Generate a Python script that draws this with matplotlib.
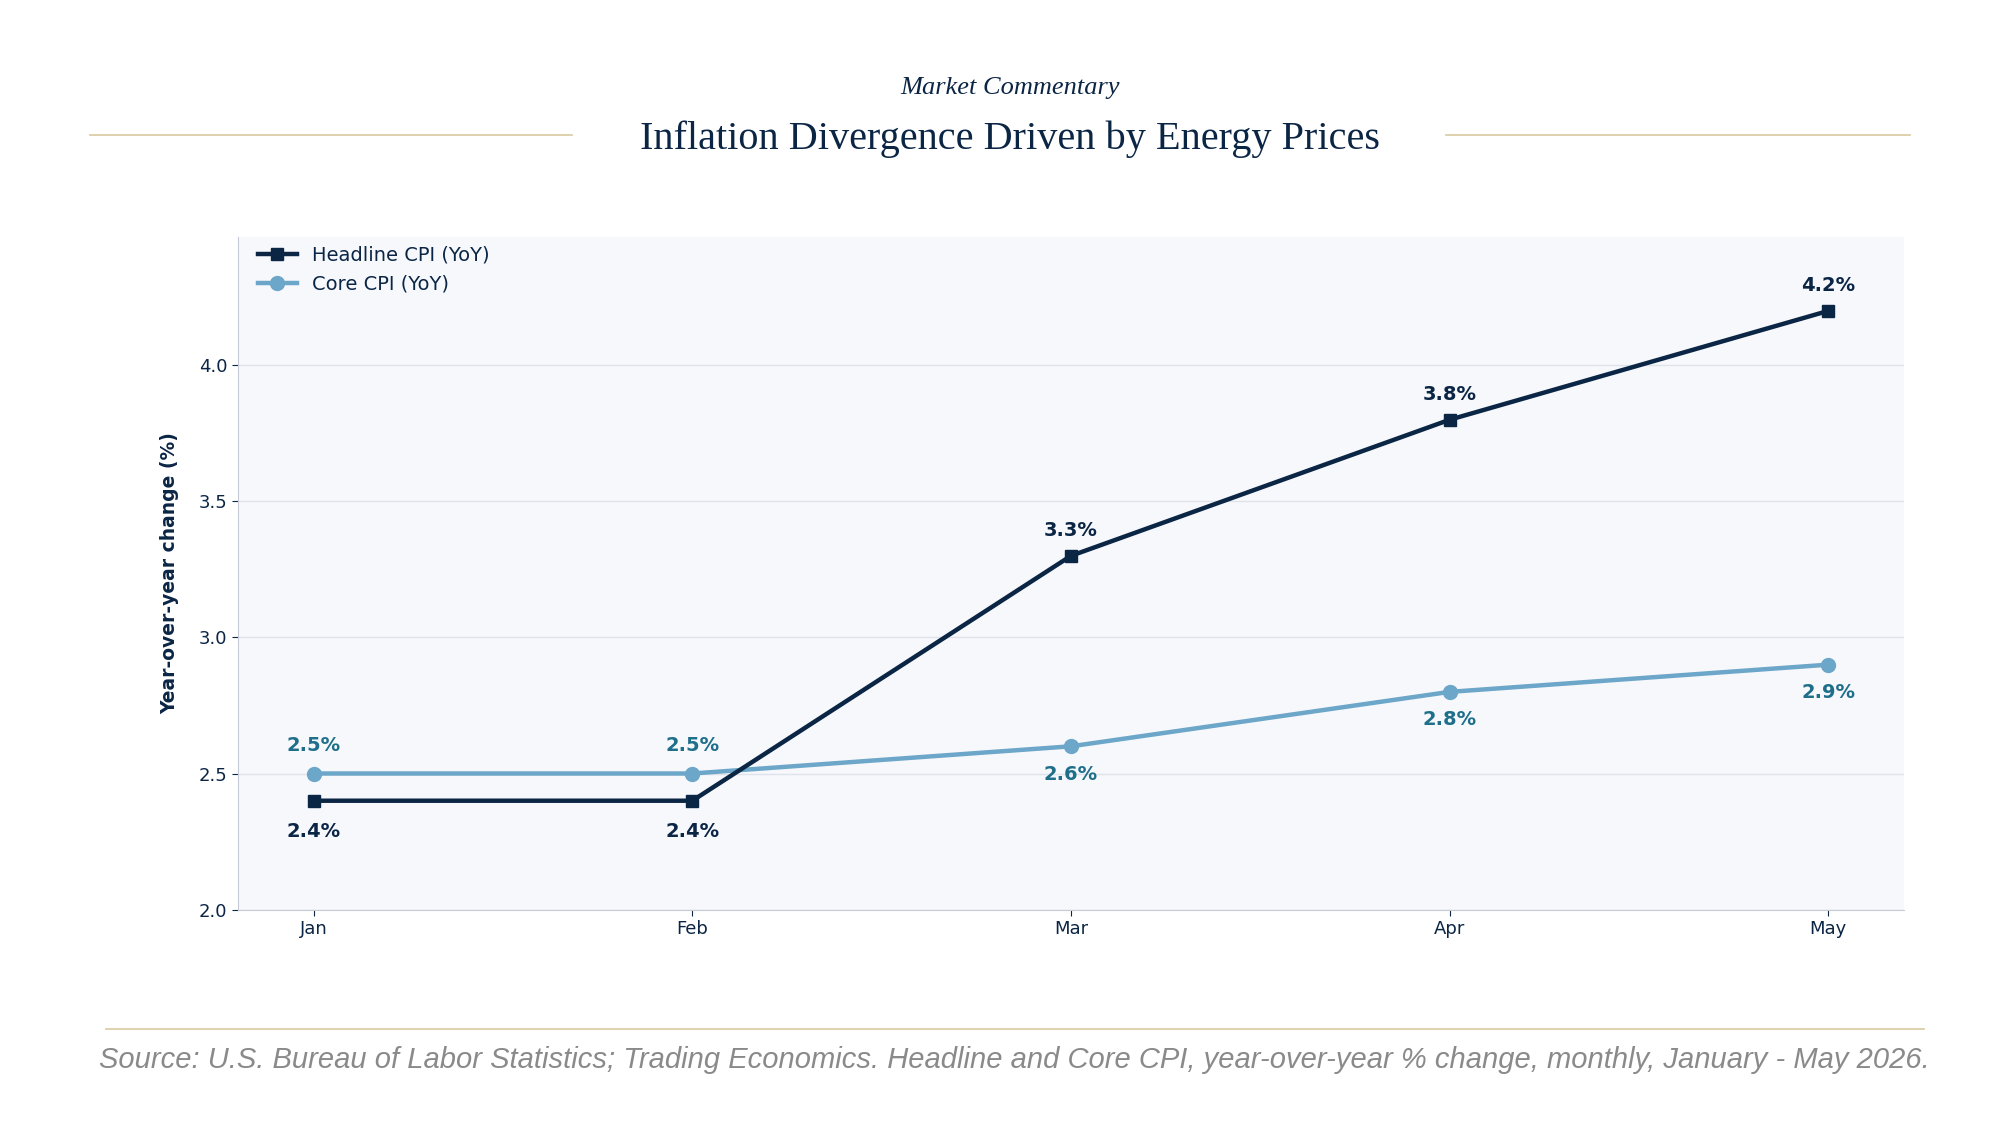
import matplotlib.pyplot as plt
from matplotlib.lines import Line2D

months = ['Jan', 'Feb', 'Mar', 'Apr', 'May']
headline = [2.4, 2.4, 3.3, 3.8, 4.2]
core = [2.5, 2.5, 2.6, 2.8, 2.9]

navy = '#0b2545'
light = '#6ca6c8'
core_txt = '#1f6f8b'
gold = '#d9c9a0'

fig = plt.figure(figsize=(20, 11.47), dpi=100)
ax = fig.add_axes([0.119, 0.207, 0.833, 0.586])
ax.set_facecolor('#f6f8fc')

x = range(len(months))
ax.plot(x, headline, color=navy, lw=3.2, marker='s', ms=9, label='Headline CPI (YoY)', zorder=3)
ax.plot(x, core, color=light, lw=3.2, marker='o', ms=10, label='Core CPI (YoY)', zorder=2)

for i, v in enumerate(headline):
    off = -22 if i < 2 else 18
    ax.annotate(f'{v}%', (i, v), xytext=(0, off), textcoords='offset points',
                ha='center', va='center', fontsize=14, fontweight='bold', color=navy)
for i, v in enumerate(core):
    off = 20 if i < 2 else -20
    ax.annotate(f'{v}%', (i, v), xytext=(0, off), textcoords='offset points',
                ha='center', va='center', fontsize=14, fontweight='bold', color=core_txt)

ax.set_xlim(-0.2, 4.2)
ax.set_ylim(2.0, 4.47)
ax.set_yticks([2.0, 2.5, 3.0, 3.5, 4.0])
ax.set_xticks(list(x))
ax.set_xticklabels(months)
ax.tick_params(labelsize=13, colors=navy, length=4)
ax.grid(axis='y', color='#dfe3ea', lw=1)
ax.set_axisbelow(True)
for s in ['top', 'right']:
    ax.spines[s].set_visible(False)
for s in ['left', 'bottom']:
    ax.spines[s].set_color('#c5cad6')
ax.set_ylabel('Year-over-year change (%)', fontsize=13.5, fontweight='bold', color=navy, labelpad=14)
ax.legend(loc='upper left', frameon=False, fontsize=14, labelcolor=navy, handlelength=2.0,
          borderaxespad=0.2, bbox_to_anchor=(0.005, 1.005))

fig.text(0.505, 0.923, 'Market Commentary', ha='center', va='center', fontsize=19,
         style='italic', family='Liberation Serif', color=navy)
fig.text(0.505, 0.879, 'Inflation Divergence Driven by Energy Prices', ha='center', va='center',
         fontsize=29, family='Liberation Serif', color=navy)
fig.add_artist(Line2D([0.045, 0.286], [0.882, 0.882], color=gold, lw=1.2))
fig.add_artist(Line2D([0.723, 0.955], [0.882, 0.882], color=gold, lw=1.2))
fig.add_artist(Line2D([0.053, 0.962], [0.103, 0.103], color=gold, lw=1.2))
fig.text(0.507, 0.076, 'Source: U.S. Bureau of Labor Statistics; Trading Economics. Headline and Core CPI, '
         'year-over-year % change, monthly, January - May 2026.', ha='center', va='center',
         fontsize=21, style='italic', family='Liberation Sans', color='#8a8a8a')

fig.savefig('out.png', facecolor='white')
